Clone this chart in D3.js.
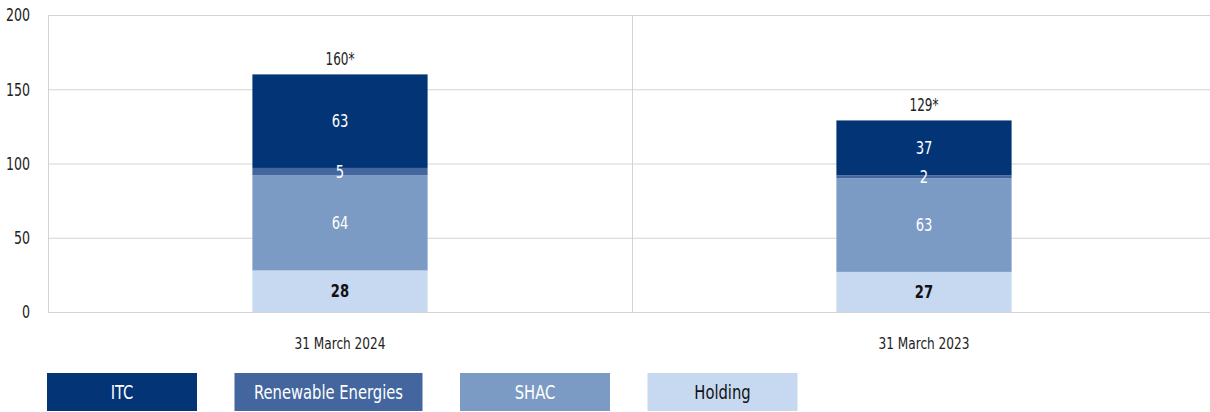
<!DOCTYPE html>
<html>
<head>
<meta charset="utf-8">
<script src="https://cdn.jsdelivr.net/npm/d3@7"></script>
<style>
  body { margin: 0; background: #fff; }
  svg { display: block; font-family: "DejaVu Sans Condensed", "DejaVu Sans", sans-serif; font-stretch: condensed; }
</style>
</head>
<body>
<div id="chart"></div>
<script>
// Data
const categories = ["31 March 2024", "31 March 2023"];
const seriesNames = ["Holding", "SHAC", "Renewable Energies", "ITC"];
const holding = [28, 27];
const shac = [64, 63];
const renewable = [5, 2];
const itc = [63, 37];
const totals = ["160*", "129*"];
const yTicks = [0, 50, 100, 150, 200];
const legendOrder = ["ITC", "Renewable Energies", "SHAC", "Holding"];

const colors = {
  "ITC": "#033576",
  "Renewable Energies": "#43669e",
  "SHAC": "#7b9bc4",
  "Holding": "#c6d9f0"
};
const labelColors = {
  "ITC": "#fff",
  "Renewable Energies": "#fff",
  "SHAC": "#fff",
  "Holding": "#111"
};

const width = 1210, height = 412;
const margin = { top: 15, right: -6, bottom: 100, left: 48 };
const innerWidth = width - margin.left - margin.right;
const innerHeight = height - margin.top - margin.bottom;

const svg = d3.select("#chart").append("svg")
  .attr("width", width)
  .attr("height", height);

// the original uses a narrow DIN-like face; squeeze the installed font to match
function narrowRatio(sample, size, targetWidth) {
  const t = svg.append("text").attr("font-size", size + "px").text(sample);
  const w = t.node().getComputedTextLength();
  t.remove();
  return targetWidth / w;
}
function squeeze(sel, k) {
  sel.each(function() {
    const w = this.getComputedTextLength();
    d3.select(this)
      .attr("textLength", w * k)
      .attr("lengthAdjust", "spacingAndGlyphs");
  });
}

const kTick = narrowRatio("200", 18, 24);
const kValue = narrowRatio("63", 17, 16.7);
const kTotal = narrowRatio("160*", 17, 29);
const kCat = narrowRatio("31 March 2024", 16.5, 91);
const kLegend = narrowRatio("Renewable Energies", 20, 149);

const g = svg.append("g")
  .attr("transform", `translate(${margin.left},${margin.top})`);

const x = d3.scaleBand()
  .domain(categories)
  .range([0, innerWidth]);

const barWidth = x.bandwidth() * 0.3;

const y = d3.scaleLinear()
  .domain([0, 200])
  .range([innerHeight, 0]);

// gridlines
g.selectAll(".grid")
  .data(yTicks)
  .enter().append("line")
  .attr("x1", 0)
  .attr("x2", innerWidth)
  .attr("y1", d => y(d) + 0.5)
  .attr("y2", d => y(d) + 0.5)
  .attr("stroke", "#d3d3d3")
  .attr("stroke-width", 1);

// left axis line and category divider
g.append("line")
  .attr("x1", 0.5).attr("x2", 0.5)
  .attr("y1", 0).attr("y2", innerHeight)
  .attr("stroke", "#d3d3d3");

g.append("line")
  .attr("x1", x(categories[1]) + 0.5).attr("x2", x(categories[1]) + 0.5)
  .attr("y1", 0).attr("y2", innerHeight)
  .attr("stroke", "#d3d3d3");

// y tick labels
g.selectAll(".ytick")
  .data(yTicks)
  .enter().append("text")
  .attr("x", -18)
  .attr("y", d => y(d))
  .attr("dy", "0.35em")
  .attr("text-anchor", "end")
  .attr("font-size", "18px")
  .attr("fill", "#222")
  .text(d => d)
  .call(squeeze, kTick);

// stack
const rows = categories.map((c, i) => ({
  category: c,
  "Holding": holding[i],
  "SHAC": shac[i],
  "Renewable Energies": renewable[i],
  "ITC": itc[i]
}));

const stack = d3.stack().keys(seriesNames)(rows);
const segments = stack.flatMap(s => s.map(p => ({ key: s.key, p })));

g.selectAll(".seg")
  .data(segments)
  .enter().append("rect")
  .attr("x", d => x(d.p.data.category) + (x.bandwidth() - barWidth) / 2)
  .attr("y", d => y(d.p[1]))
  .attr("width", barWidth)
  .attr("height", d => y(d.p[0]) - y(d.p[1]))
  .attr("fill", d => colors[d.key]);

// segment labels on top of all rects
g.selectAll(".segLabel")
  .data(segments)
  .enter().append("text")
  .attr("x", d => x(d.p.data.category) + x.bandwidth() / 2)
  .attr("y", d => y((d.p[0] + d.p[1]) / 2))
  .attr("dy", "0.35em")
  .attr("text-anchor", "middle")
  .attr("font-size", "17px")
  .attr("font-weight", d => d.key === "Holding" ? "bold" : "normal")
  .attr("fill", d => labelColors[d.key])
  .text(d => d.p[1] - d.p[0])
  .call(squeeze, kValue);

// totals
const topLayer = stack[stack.length - 1];
g.selectAll(".total")
  .data(topLayer)
  .enter().append("text")
  .attr("x", d => x(d.data.category) + x.bandwidth() / 2)
  .attr("y", d => y(d[1]) - 9)
  .attr("text-anchor", "middle")
  .attr("font-size", "17px")
  .attr("fill", "#222")
  .text((d, i) => totals[i])
  .call(squeeze, kTotal);

// category labels
g.selectAll(".xlab")
  .data(categories)
  .enter().append("text")
  .attr("x", d => x(d) + x.bandwidth() / 2)
  .attr("y", innerHeight + 37)
  .attr("text-anchor", "middle")
  .attr("font-size", "16.5px")
  .attr("fill", "#222")
  .text(d => d)
  .call(squeeze, kCat);

// legend
const legend = svg.append("g")
  .attr("transform", "translate(47,373)");

let lx = 0;
legendOrder.forEach(name => {
  const item = legend.append("g").attr("transform", `translate(${lx},0)`);
  const rect = item.append("rect")
    .attr("height", 38)
    .attr("fill", colors[name]);
  const t = item.append("text")
    .attr("y", 19)
    .attr("dy", "0.35em")
    .attr("text-anchor", "middle")
    .attr("font-size", "20px")
    .attr("fill", labelColors[name])
    .text(name)
    .call(squeeze, kLegend);
  const w = Math.max(150, +t.attr("textLength") + 39);
  rect.attr("width", w);
  t.attr("x", w / 2);
  lx += w + 37.5;
});
</script>
</body>
</html>
